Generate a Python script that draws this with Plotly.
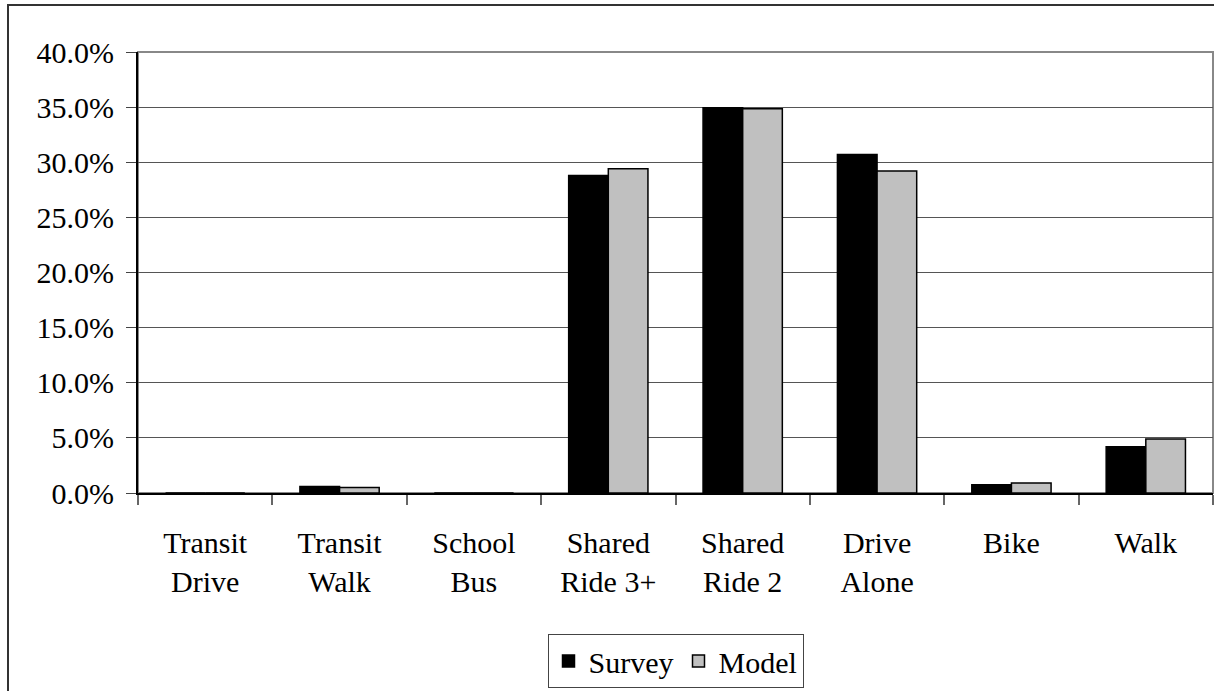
import plotly.graph_objects as go

# Mode share by travel mode (percent of trips)
modes = ["Transit<br>Drive", "Transit<br>Walk", "School<br>Bus", "Shared<br>Ride 3+",
         "Shared<br>Ride 2", "Drive<br>Alone", "Bike", "Walk"]
survey = [0.0, 0.6, 0.0, 28.8, 34.95, 30.7, 0.75, 4.2]
model = [0.0, 0.5, 0.0, 29.4, 34.85, 29.2, 0.9, 4.9]
y_ticks = [0, 5, 10, 15, 20, 25, 30, 35, 40]
y_tick_labels = ["0.0%", "5.0%", "10.0%", "15.0%", "20.0%", "25.0%", "30.0%", "35.0%", "40.0%"]

FONT = "Liberation Serif"
SIZE = 30

fig = go.Figure()
fig.add_trace(go.Bar(x=modes, y=survey, name="Survey",
                     marker=dict(color="#000000", line=dict(color="#000000", width=1.5))))
fig.add_trace(go.Bar(x=modes, y=model, name="Model",
                     marker=dict(color="#C0C0C0", line=dict(color="#000000", width=1.5))))

L, R, T, B = 138, 1, 52, 198
W, H = 1214, 691
pw, ph = W - L - R, H - T - B

fig.update_layout(
    width=W, height=H,
    margin=dict(l=L, r=R, t=T, b=B, pad=0),
    paper_bgcolor="white", plot_bgcolor="white",
    font=dict(family=FONT, size=SIZE, color="black"),
    barmode="group", bargap=0.41, bargroupgap=0,
    showlegend=True,
    legend=dict(orientation="h", x=0.5, xanchor="center", y=-0.32, yanchor="top",
                bordercolor="#444444", borderwidth=1, bgcolor="white",
                font=dict(family=FONT, size=SIZE), itemwidth=30, tracegroupgap=0),
    xaxis=dict(showline=True, linecolor="#000000", linewidth=2, layer="above traces",
               ticks="outside", ticklen=10, tickcolor="#666666", tickwidth=2,
               tickson="boundaries", showgrid=False, tickangle=0,
               ticklabelstandoff=22,
               tickfont=dict(family=FONT, size=SIZE)),
    yaxis=dict(range=[0, 40], tickvals=y_ticks, ticktext=y_tick_labels,
               showline=True, linecolor="#000000", linewidth=2,
               ticks="outside", ticklen=10, tickcolor="#444444", tickwidth=1,
               showgrid=True, gridcolor="#555555", gridwidth=1, zeroline=False,
               ticklabelstandoff=6,
               tickfont=dict(family=FONT, size=SIZE)),
    shapes=[
        # plot-area frame
        dict(type="rect", xref="paper", yref="paper", x0=0, x1=1, y0=0, y1=1,
             line=dict(color="#888888", width=2), layer="below"),
        # outer chart border, running past the page edge on the right and bottom
        dict(type="rect", xref="paper", yref="paper",
             x0=(8 - L) / pw, x1=1.2, y0=-1.0, y1=(ph + T - 5) / ph,
             line=dict(color="#333333", width=2), layer="above"),
    ],
)

fig.write_html("out.html")
